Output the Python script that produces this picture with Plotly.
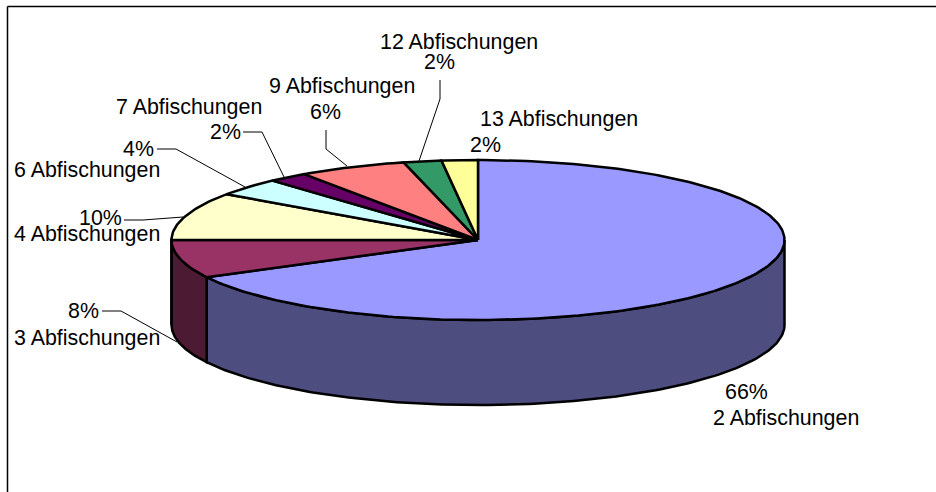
import numpy as np
import plotly.graph_objects as go

# Data: clockwise from 12 o'clock
categories = ["2 Abfischungen", "3 Abfischungen", "4 Abfischungen", "6 Abfischungen",
              "7 Abfischungen", "9 Abfischungen", "12 Abfischungen", "13 Abfischungen"]
# slice sizes (percent of the full circle)
shares = [67.3, 7.7, 9.7, 3.6, 2.1, 5.7, 2.0, 1.9]
# percentages as printed on the chart
printed = ["66%", "8%", "10%", "4%", "2%", "6%", "2%", "2%"]
top_colors = ["#9999FF", "#993366", "#FFFFCC", "#CCFFFF", "#660066", "#FF8080", "#339966", "#FFFF99"]
side_colors = ["#4D4D80", "#4D1A33", "#808066", "#668080", "#330033", "#804040", "#1A4D33", "#80804D"]

# Pie geometry in canvas units
CX, CY, RX, RY, DEPTH = 478.0, 240.0, 306.5, 80.0, 85.0
FONT = dict(family="Liberation Sans, Arial, sans-serif", size=21.4, color="#000000")

# label layout: (category text: left x, y), (percent: centre x, y), leader polyline
label_layout = [
    ((711.5, 418), (746, 392), None),
    ((13, 338), (83, 311), [(102, 311), (121, 311), (177, 342)]),
    ((12.5, 234), (100, 218), [(124, 220), (143, 220), (183, 217)]),
    ((12.5, 170), (138, 149), [(157, 149), (176, 149), (245, 187)]),
    ((115, 107), (225, 132), [(243, 132), (262, 132), (284, 177)]),
    ((268, 86), (325, 112), [(326, 130), (326, 149), (347, 166)]),
    ((378.5, 42), (439, 62), [(440, 80), (440, 99), (419, 161)]),
    ((478.5, 119), (485, 145), None),
]


def rim(theta, drop=0.0):
    return CX + RX * np.sin(theta), CY - RY * np.cos(theta) + drop


fractions = np.array(shares) / sum(shares)
edges = np.concatenate([[0.0], np.cumsum(fractions)]) * 2 * np.pi

fig = go.Figure()
outline = dict(color="#000000", width=2.5)


def add_poly(x, y, color, line=outline, mode="lines"):
    fig.add_trace(go.Scatter(x=x, y=y, mode=mode, fill="toself", fillcolor=color,
                             line=line, hoverinfo="skip", showlegend=False))


# Side walls: only the part of each slice's arc on the front half of the ellipse
for i in range(len(shares)):
    a0 = max(edges[i], np.pi / 2)
    a1 = min(edges[i + 1], 3 * np.pi / 2)
    if a1 <= a0:
        continue
    t = np.linspace(a0, a1, 160)
    xt, yt = rim(t)
    xb, yb = rim(t[::-1], DEPTH)
    add_poly(np.r_[xt, xb, xt[0]], np.r_[yt, yb, yt[0]], side_colors[i])

# Top faces
for i in range(len(shares)):
    t = np.linspace(edges[i], edges[i + 1], max(12, int(360 * fractions[i])))
    xt, yt = rim(t)
    add_poly(np.r_[CX, xt, CX], np.r_[CY, yt, CY], top_colors[i])

shapes = [
    dict(type="line", xref="x", yref="y", x0=7.5, y0=6.5, x1=936, y1=6.5,
         line=dict(color="#000000", width=1.5)),
    dict(type="line", xref="x", yref="y", x0=7.5, y0=6.5, x1=7.5, y1=492,
         line=dict(color="#000000", width=1.5)),
]

annotations = []
for name, pct, (cat_pos, pct_pos, leader) in zip(categories, printed, label_layout):
    annotations.append(dict(x=cat_pos[0], y=cat_pos[1], text=name, xanchor="left", yanchor="middle",
                            showarrow=False, font=FONT, xref="x", yref="y", borderpad=0))
    annotations.append(dict(x=pct_pos[0], y=pct_pos[1], text=pct, xanchor="center", yanchor="middle",
                            showarrow=False, font=FONT, xref="x", yref="y", borderpad=0))
    if leader:
        fig.add_trace(go.Scatter(x=[p[0] for p in leader], y=[p[1] for p in leader], mode="lines",
                                 line=dict(color="#000000", width=1), hoverinfo="skip", showlegend=False))

fig.update_layout(
    width=936, height=492, margin=dict(l=0, r=0, t=0, b=0),
    paper_bgcolor="#FFFFFF", plot_bgcolor="#FFFFFF",
    xaxis=dict(range=[0, 936], visible=False, fixedrange=True),
    yaxis=dict(range=[492, 0], visible=False, fixedrange=True),
    shapes=shapes, annotations=annotations,
)
fig.write_html("out.html", config={"displayModeBar": False, "responsive": False},
               post_script="document.body.style.margin='0';document.documentElement.style.overflow='hidden';")
